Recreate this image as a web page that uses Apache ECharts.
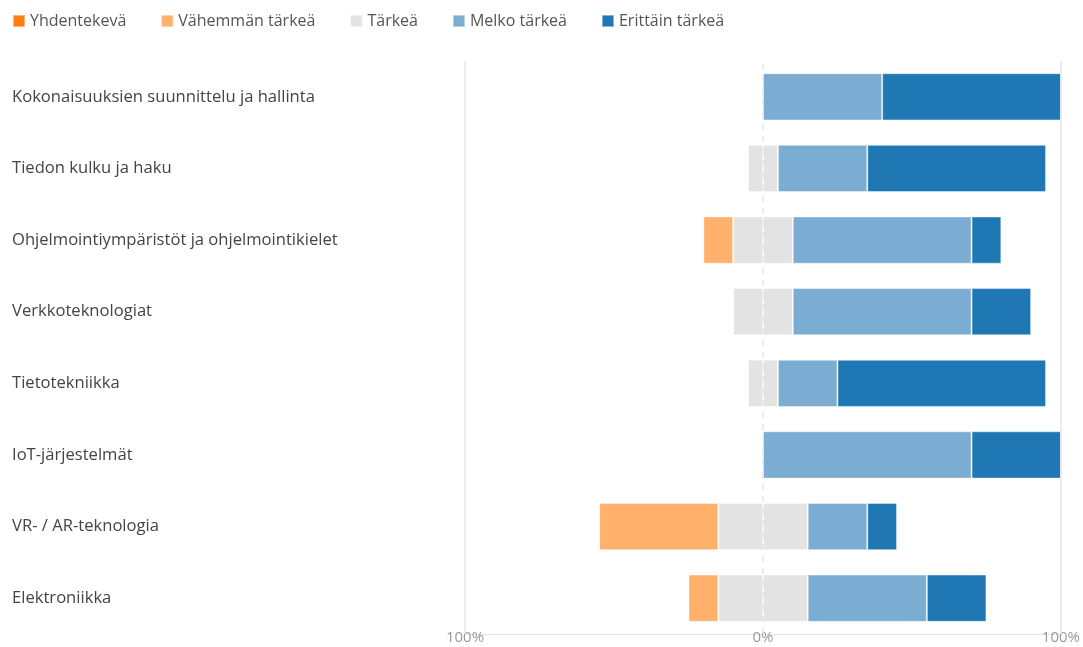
<!DOCTYPE html>
<html>
<head>
<meta charset="utf-8">
<script src="https://cdn.jsdelivr.net/npm/echarts@6/dist/echarts.min.js"></script>
<style>
  html, body { margin: 0; padding: 0; background: #fff; }
  #chart { width: 1083px; height: 647px; }
</style>
</head>
<body>
<div id="chart"></div>
<script>
// Topics, top to bottom
const categories = [
  'Kokonaisuuksien suunnittelu ja hallinta',
  'Tiedon kulku ja haku',
  'Ohjelmointiympäristöt ja ohjelmointikielet',
  'Verkkoteknologiat',
  'Tietotekniikka',
  'IoT-järjestelmät',
  'VR- / AR-teknologia',
  'Elektroniikka'
];

// Share of answers (%) per importance level
const yhdentekeva     = [0, 0, 0, 0, 0, 0, 0, 0];
const vahemmanTarkea  = [0, 0, 10, 0, 0, 0, 40, 10];
const tarkea          = [0, 10, 20, 20, 10, 0, 30, 30];
const melkoTarkea     = [40, 30, 60, 60, 20, 70, 20, 40];
const erittainTarkea  = [60, 60, 10, 20, 70, 30, 10, 20];

const legendNames = ['Yhdentekevä', 'Vähemmän tärkeä', 'Tärkeä', 'Melko tärkeä', 'Erittäin tärkeä'];
const colors = ['#ff7f0e', '#ffb06b', '#e3e3e3', '#7bacd2', '#1f77b4'];

const font = '"Open Sans", "Noto Sans", sans-serif';

// Categories are listed top-down; the category axis runs bottom-up
const rev = a => a.slice().reverse();
const neg = a => rev(a).map(v => v === 0 ? 0 : -v);
const halfNeg = a => rev(a).map(v => v === 0 ? 0 : -v / 2);
const halfPos = a => rev(a).map(v => v / 2);

const barStyle = (c) => ({ color: c, borderColor: 'rgba(255,255,255,0.45)', borderWidth: 1 });

function bar(name, data, color) {
  return {
    name, type: 'bar', stack: 'total', data,
    barWidth: '66%',
    itemStyle: barStyle(color),
    emphasis: { disabled: true },
    z: 2
  };
}

const series = [
  // neutral answers are split evenly around zero
  bar('Tärkeä', halfNeg(tarkea), colors[2]),
  bar('Tärkeä', halfPos(tarkea), colors[2]),
  bar('Vähemmän tärkeä', neg(vahemmanTarkea), colors[1]),
  bar('Yhdentekevä', neg(yhdentekeva), colors[0]),
  bar('Melko tärkeä', rev(melkoTarkea), colors[3]),
  bar('Erittäin tärkeä', rev(erittainTarkea), colors[4])
];

const chart = echarts.init(document.getElementById('chart'), null, { renderer: 'canvas' });
chart.setOption({
  animation: false,
  color: colors,
  legend: {
    data: legendNames,
    left: 7,
    top: 8,
    itemWidth: 12,
    itemHeight: 12,
    itemGap: 34,
    icon: 'rect',
    textStyle: { fontFamily: font, fontSize: 16, color: '#555' }
  },
  grid: { left: 465, right: 22, top: 61, bottom: 13, containLabel: false },
  xAxis: {
    type: 'value',
    min: -100,
    max: 100,
    interval: 100,
    axisLine: { show: true, lineStyle: { color: '#e3e3e3', width: 1 } },
    axisTick: { show: false },
    splitLine: { show: false },
    axisLabel: {
      fontFamily: font, fontSize: 15, color: '#999', margin: -4,
      formatter: v => Math.abs(v) + '%'
    }
  },
  yAxis: [{
    type: 'category',
    data: rev(categories),
    axisLine: { show: false },
    axisTick: { show: false },
    axisLabel: {
      align: 'left',
      margin: 453,
      fontFamily: font,
      fontSize: 16.6,
      color: '#444'
    }
  }],
  series: series.concat([
    // vertical reference lines at -100 %, 0 % and 100 %
    {
      type: 'line', data: [], silent: true, z: 1,
      markLine: {
        symbol: 'none', silent: true, label: { show: false },
        data: [
          { xAxis: -100, lineStyle: { color: '#e6e6e6', width: 1.5, type: 'solid' } },
          { xAxis: 0, lineStyle: { color: '#e6e6e6', width: 1.5, type: [6, 6] } },
          { xAxis: 100, lineStyle: { color: '#e6e6e6', width: 1.5, type: 'solid' } }
        ]
      }
    }
  ])
});
</script>
</body>
</html>
